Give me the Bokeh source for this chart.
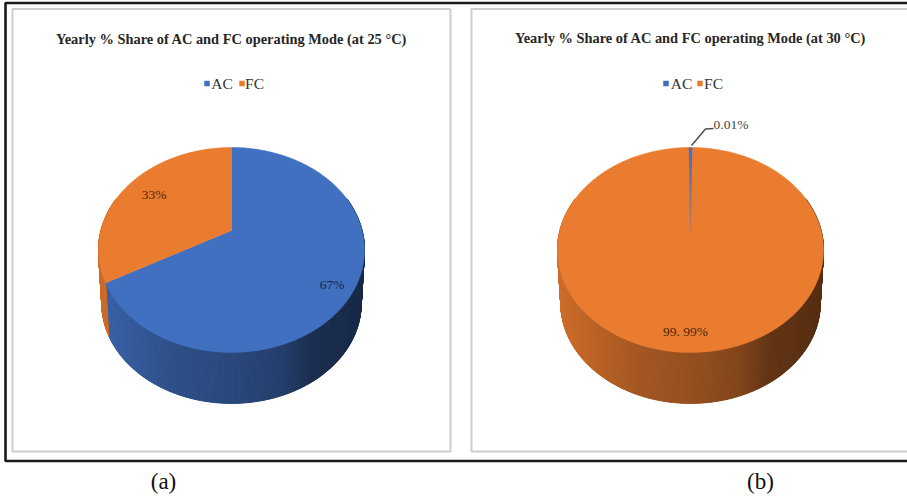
import numpy as np
from bokeh.core.properties import value
from bokeh.embed import file_html
from bokeh.models import ColumnDataSource
from bokeh.plotting import figure
from bokeh.resources import INLINE

# Chart data
categories = ["AC", "FC"]
share_25 = [67, 33]
share_30 = [0.01, 99.99]
labels_25 = ["67%", "33%"]
labels_30 = ["0.01%", "99. 99%"]
titles = [
    "Yearly % Share of AC and FC operating Mode (at 25 °C)",
    "Yearly % Share of AC and FC operating Mode (at 30 °C)",
]
captions = ["(a)", "(b)"]

# Palette
AC_BLUE = "#4170c1"
FC_ORANGE = "#ea7c30"
SERIES_COLORS = [AC_BLUE, FC_ORANGE]

# Pie projection: perspective view of a circle, in page pixels
HUB_Y = 230.0
SCALE_X = 130.6
SCALE_Y = 98.8
PERSPECTIVE = 0.19
WALL_SHRINK = 0.975
WALL_DROP = 54.0

# Wall shading across the pie width (position, brightness)
SHADE_POS = [0.0, 0.30, 0.55, 0.68, 0.80, 1.0]
SHADE_VAL = [0.88, 0.70, 0.62, 0.56, 0.42, 0.37]


def rim(cx, theta):
    """Screen position of the rim at a clockwise angle from twelve o'clock."""
    u, w = np.sin(theta), -np.cos(theta)
    d = 1 - PERSPECTIVE * w
    return cx + SCALE_X * u / d, HUB_Y + SCALE_Y * w / d


def lower_rim(cx, theta):
    x, y = rim(cx, theta)
    return cx + (x - cx) * WALL_SHRINK, HUB_Y + WALL_DROP + (y - HUB_Y) * WALL_SHRINK


def shade(hex_color, amount):
    rgb = [int(hex_color[i:i + 2], 16) for i in (1, 3, 5)]
    return "#%02x%02x%02x" % tuple(int(c * amount) for c in rgb)


def draw_pie(p, cx, shares):
    fractions = np.cumsum([0] + list(shares)) / sum(shares)
    angles = fractions * 2 * np.pi

    # Side wall as narrow shaded quads, swept along the front of the pie
    xs, ys, fills = [], [], []
    steps = np.radians(np.arange(70, 290.5, 0.5))
    for a, b in zip(steps[:-1], steps[1:]):
        mid = (a + b) / 2
        k = int(np.searchsorted(angles, mid, side="right")) - 1
        k = min(max(k, 0), len(shares) - 1)
        xa, ya = rim(cx, a)
        xb, yb = rim(cx, b)
        xc, yc = lower_rim(cx, b)
        xd, yd = lower_rim(cx, a)
        xs.append([xa, xb, xc, xd])
        ys.append([ya, yb, yc, yd])
        t = ((xa + xb) / 2 - (cx - SCALE_X * 1.02)) / (2 * SCALE_X * 1.02)
        fills.append(shade(SERIES_COLORS[k], float(np.interp(t, SHADE_POS, SHADE_VAL))))
    p.patches(xs, ys, fill_color=fills, line_color=fills, line_width=1)

    # Top face, one wedge per category
    for k, share in enumerate(shares):
        if share / sum(shares) < 0.005:
            continue
        th = np.linspace(angles[k], angles[k + 1], 240)
        x, y = rim(cx, th)
        p.patch(np.r_[cx, x], np.r_[HUB_Y, y], fill_color=SERIES_COLORS[k],
                line_color=SERIES_COLORS[k], line_width=0.5)

    # A very thin slice is stroked along its radius, fading towards the hub
    for k, share in enumerate(shares):
        if share / sum(shares) >= 0.005:
            continue
        mid = (angles[k] + angles[k + 1]) / 2
        x_top, y_top = rim(cx, mid)
        ramp = np.linspace(0, 1, 13)
        seg_x = cx + (x_top - cx) * ramp
        seg_y = HUB_Y + (y_top - HUB_Y) * ramp
        p.multi_line(
            [[seg_x[i], seg_x[i + 1]] for i in range(12)],
            [[seg_y[i], seg_y[i + 1]] for i in range(12)],
            line_color=SERIES_COLORS[k],
            line_width=[0.8 + 2.6 * i / 11 for i in range(12)],
            line_alpha=[0.35 + 0.65 * i / 11 for i in range(12)],
        )
        return x_top, y_top
    return None


def serif_text(p, x, y, text, size, color="#222222", bold=False, font="Liberation Serif"):
    src = ColumnDataSource(dict(x=[x], y=[y], text=[text]))
    p.text("x", "y", "text", source=src, text_font=value(font),
           text_font_size=f"{size}px", text_color=color,
           text_font_style="bold" if bold else "normal",
           text_align="center", text_baseline="middle")


p = figure(width=907, height=496, x_range=(0, 907), y_range=(496, 0),
           output_backend="svg", toolbar_location=None, min_border=0,
           x_axis_location=None, y_axis_location=None)
p.grid.visible = False
p.outline_line_color = None
p.background_fill_color = "white"
p.border_fill_color = "white"

# Outer frame, running past the right edge
p.line([930, 5, 5, 930], [2.5, 2.5, 460.5, 460.5], line_color="#1a1a1a", line_width=2.6)

# Chart panels
p.line([450, 12, 12, 450, 450], [8.5, 8.5, 451, 451, 8.5], line_color="#cdcdcd", line_width=2)
p.line([930, 471, 471, 930], [8.5, 8.5, 451, 451], line_color="#cdcdcd", line_width=2)

# Pies
CX_A, CX_B = 231.0, 690.0
draw_pie(p, CX_A, share_25)
thin_tip = draw_pie(p, CX_B, share_30)

# Leader for the thin slice
p.line([thin_tip[0] + 1, 705, 713], [thin_tip[1] - 2, 128.5, 128], line_color="#4d4d4d", line_width=1.5)

# Titles
serif_text(p, CX_A, 38, titles[0], 14.4, color="#262626", bold=True)
serif_text(p, CX_B, 37.5, titles[1], 14.4, color="#262626", bold=True)

# Legends
for x_sq, x_txt, k in [(206.5, 221.5, 0), (241.5, 254, 1), (665.5, 681, 0), (699.5, 713, 1)]:
    p.scatter([x_sq], [83], marker="square", size=5.5, fill_color=SERIES_COLORS[k], line_color=None)
    serif_text(p, x_txt, 83, categories[k], 15.5, color="#333333")

# Value labels
serif_text(p, 153.5, 194, labels_25[1], 13.5, color="#4a2408")
serif_text(p, 331.5, 284, labels_25[0], 13.5, color="#142544")
serif_text(p, 730.5, 124, labels_30[0], 13.5, color="#444444")
serif_text(p, 685, 331, labels_30[1], 13.5, color="#4a2408")

# Panel captions
serif_text(p, 163, 481, captions[0], 23, color="#111111")
serif_text(p, 760, 481, captions[1], 23, color="#111111")

open("out.html", "w").write(file_html(p, INLINE))
